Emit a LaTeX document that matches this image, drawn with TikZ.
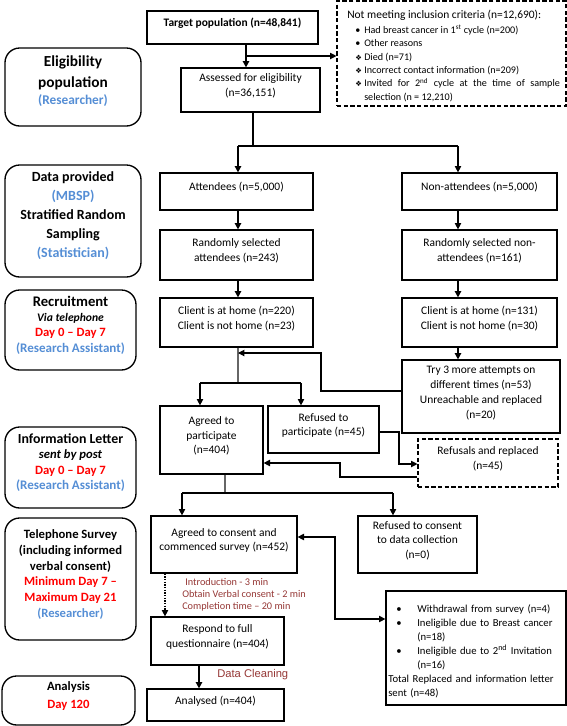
\documentclass[tikz,border=0pt]{standalone}
\usepackage{fontspec}
\setmainfont{Carlito}
\newfontfamily\arialf{Liberation Sans}
\newfontfamily\symf{DejaVu Sans}
\usetikzlibrary{arrows.meta,fit}
\definecolor{rblue}{HTML}{558ED5}
\definecolor{dred}{HTML}{953735}
\definecolor{bred}{HTML}{FF0000}
\newcommand{\fsz}[2]{\fontsize{#1}{#2}\selectfont}
\newcommand{\critem}[2]{\par\noindent\hangindent=12.75pt\hangafter=1\hspace*{6pt}\makebox[6.75pt][l]{#1}#2}
\newcommand{\witem}[1]{\par\noindent\hangindent=21.75pt\hangafter=1\hspace*{6pt}\makebox[15.75pt][l]{\textbullet}#1}
\newcommand{\dia}{{\symf\fsz{5.5}{9}❖}}
\begin{document}
\begin{tikzpicture}[x=0.75pt,y=-0.75pt,
  mbox/.style={draw, line width=0.9pt, inner sep=0pt, align=center, font=\fsz{8.6}{11}},
  dbox/.style={mbox, line width=0.8pt, dash pattern=on 3.2pt off 1.8pt},
  sidebox/.style={draw, line width=1pt, rounded corners=11pt, inner sep=0pt, align=center},
  conn/.style={line width=0.8pt},
  gconn/.style={line width=0.8pt, draw=black!60},
  arr/.style={conn, -{Triangle[length=4.8pt,width=4.8pt]}},
  marr/.style={line width=1.2pt, -{Triangle[length=4.8pt,width=4.8pt]}},
  tarr/.style={line width=1.5pt, -{Triangle[length=4.8pt,width=4.8pt]}},
  arrtwo/.style={conn, {Triangle[length=4.8pt,width=4.8pt]}-{Triangle[length=4.8pt,width=4.8pt]}},
  darr/.style={conn, dash pattern=on 1pt off 1pt, -{Triangle[length=4.8pt,width=4.8pt]}},
  note/.style={anchor=west, inner sep=0pt, text=dred, font=\fsz{7.7}{9.4}}
]
\useasboundingbox (0,0) rectangle (567,726);

% side boxes
\node[sidebox, fit={(5,48)(141,126)}, font=\bfseries\fsz{11.5}{15.5}] (elig)
  {Eligibility\\population\\[-2.5pt]{\fsz{10}{12}\color{rblue}(Researcher)}};
\node[sidebox, fit={(5,165)(141,277)}, font=\bfseries\fsz{10.5}{14.25}] (data)
  {Data provided\\{\color{rblue}(MBSP)}\\Stratified Random\\Sampling\\{\color{rblue}(Statistician)}};
\node[sidebox, fit={(5,290)(136,370)}, font=\bfseries\fsz{11}{11.5}] (recr)
  {Recruitment\\{\fsz{8.7}{10}\itshape Via telephone}\\{\fsz{9.5}{11}\color{bred}Day 0 – Day 7}\\{\fsz{9.8}{11}\color{rblue}(Research Assistant)}};
\node[sidebox, fit={(5,427)(136,508)}, font=\bfseries\fsz{10.4}{11.6}] (info)
  {Information Letter\\{\fsz{9.5}{11}\itshape sent by post}\\{\fsz{9.5}{11}\color{bred}Day 0 – Day 7}\\{\fsz{9.8}{11}\color{rblue}(Research Assistant)}};
\node[sidebox, fit={(5,518)(136,640)}, font=\bfseries\fsz{9.5}{11.8}] (tele)
  {Telephone Survey\\(including informed\\verbal consent)\\{\color{bred}Minimum Day 7 –}\\{\color{bred}Maximum Day 21}\\{\color{rblue}(Researcher)}};
\node[sidebox, fit={(2,676)(135,725)}, font=\bfseries\fsz{9.5}{14}] (anal)
  {Analysis\\{\color{bred}Day 120}};

% main boxes
\node[mbox, fit={(147,11)(318,44)}, font=\bfseries\fsz{8.6}{11}] (target) {Target population (n=48,841)};
\node[dbox, fit={(337,1)(566,106)}] (crit) {};
\node[anchor=north west, inner sep=0pt, text width=159.5pt, align=justify, font=\fsz{7.6}{10}] (critx) at (347,10)
  {{\fsz{8.6}{11}Not meeting inclusion criteria (n=12,690):\par}\vspace{1.2pt}
   \critem{\textbullet}{Had breast cancer in 1\textsuperscript{st} cycle (n=200)}
   \critem{\textbullet}{Other reasons}
   \critem{\dia}{Died (n=71)}
   \critem{\dia}{Incorrect contact information (n=209)}
   \critem{\dia}{Invited for 2\textsuperscript{nd} cycle at the time of sample\linebreak selection (n = 12,210)}\par};
\node[mbox, fit={(181,68)(320,112)}] (assess) {Assessed for eligibility\\(n=36,151)};
\node[mbox, fit={(160,173)(313,210)}] (att) {Attendees (n=5,000)};
\node[mbox, fit={(402,173)(557,210)}] (natt) {Non-attendees (n=5,000)};
\node[mbox, fit={(160,230)(313,280)}] (ratt) {Randomly selected\\attendees (n=243)};
\node[mbox, fit={(402,230)(557,280)}] (rnatt) {Randomly selected non-\\attendees (n=161)};
\node[mbox, fit={(160,298)(313,347)}] (catt) {Client is at home (n=220)\\Client is not home (n=23)};
\node[mbox, fit={(402,298)(557,347)}] (cnatt) {Client is at home (n=131)\\Client is not home (n=30)};
\node[mbox, fit={(402,360)(560,433)}, font=\fsz{8.6}{11.3}] (try) {Try 3 more attempts on\\different times (n=53)\\Unreachable and replaced\\(n=20)};
\node[mbox, fit={(160,406)(263,474)}] (agree) {Agreed to\\participate\\(n=404)};
\node[mbox, fit={(268,406)(379,453)}] (refuse) {Refused to\\participate (n=45)};
\node[dbox, fit={(418,439)(558,487)}] (refrep) {Refusals and replaced\\(n=45)};
\node[mbox, fit={(151,516)(297,573)}] (cons) {Agreed to consent and\\commenced survey (n=452)};
\node[mbox, fit={(358,516)(477,573)}] (rcons) {Refused to consent\\to data collection\\(n=0)};
\node[mbox, fit={(386,591)(566,705)}] (withd) {};
\node[anchor=north west, inner sep=0pt, text width=129pt, align=left, font=\fsz{8}{10.5}] (withdx) at (388,598)
  {\witem{Withdrawal from survey (n=4)}
   \witem{Ineligible due to Breast cancer\newline(n=18)}
   \witem{Ineligible due to 2\textsuperscript{nd} Invitation\newline(n=16)}
   \par\noindent Total Replaced and information letter\newline sent (n=48)\par};
\node[mbox, fit={(151,617)(284,665)}] (resp) {Respond to full\\questionnaire (n=404)};
\node[mbox, fit={(147,689)(284,721)}] (anls) {Analysed (n=404)};

% notes
\node[note] (intro) at (185,581.5) {Introduction - 3 min};
\node[note] (obtain) at (182,594) {Obtain Verbal consent - 2 min};
\node[note] (compl) at (182,606.5) {Completion time – 20 min};
\node[note, font=\arialf\fsz{8.4}{10}] (clean) at (217,675) {Data Cleaning};

% connectors
\coordinate (b1) at (246,56);
\draw[tarr] (target.south -| b1) -- (assess.north -| b1);
\draw[arr] (b1) -- (b1 -| crit.west);
\coordinate (s1) at (253,146);
\coordinate (la) at (238,146);
\coordinate (ra) at (458,146);
\draw[conn] (assess.south -| s1) -- (s1);
\draw[conn] (la) -- (ra);
\draw[marr] (la) -- (att.north -| la);
\draw[arr] (ra) -- (natt.north -| ra);
\draw[marr] (att.south -| la) -- (ratt.north -| la);
\draw[marr] (ratt.south -| la) -- (catt.north -| la);
\draw[arr] (natt.south -| ra) -- (rnatt.north -| ra);
\draw[marr] (rnatt.south -| ra) -- (cnatt.north -| ra);
\draw[marr] (cnatt.south -| ra) -- (try.north -| ra);

\coordinate (c1) at (238,383);
\coordinate (c2) at (200,383);
\coordinate (c3) at (301,383);
\draw[gconn] (catt.south -| c1) -- (c1);
\draw[conn] (c2) -- (c3);
\draw[arr] (c2) -- (agree.north -| c2);
\draw[arr] (c3) -- (refuse.north -| c3);

\coordinate (t1) at (321,391);
\coordinate (t2) at (321,353);
\draw[arr] (try.west |- t1) -- (t1) -- (t2) -- (t2 -| c1);

\coordinate (r1) at (399,432);
\coordinate (r2) at (399,464);
\draw[arr] (refuse.east |- r1) -- (r1) -- (r2) -- (r2 -| refrep.west);

\coordinate (q1) at (340,477);
\coordinate (q2) at (340,463);
\draw[arr] (refrep.west |- q1) -- (q1) -- (q2) -- (q2 -| agree.east);

\coordinate (a1) at (225,493);
\coordinate (a2) at (182,493);
\coordinate (a3) at (393,493);
\draw[gconn] (agree.south -| a1) -- (a1);
\draw[conn] (a2) -- (a3);
\draw[arr] (a2) -- (cons.north -| a2);
\draw[arr] (a3) -- (rcons.north -| a3);

\coordinate (w1) at (335,537);
\coordinate (w2) at (335,619);
\draw[arrtwo] (cons.east |- w1) -- (w1) -- (w2) -- (w2 -| withd.west);

\coordinate (d1) at (165,600);
\draw[darr] (cons.south -| d1) -- (resp.north -| d1);
\coordinate (e1) at (199,680);
\draw[tarr] (resp.south -| e1) -- (anls.north -| e1);
\end{tikzpicture}
\end{document}
